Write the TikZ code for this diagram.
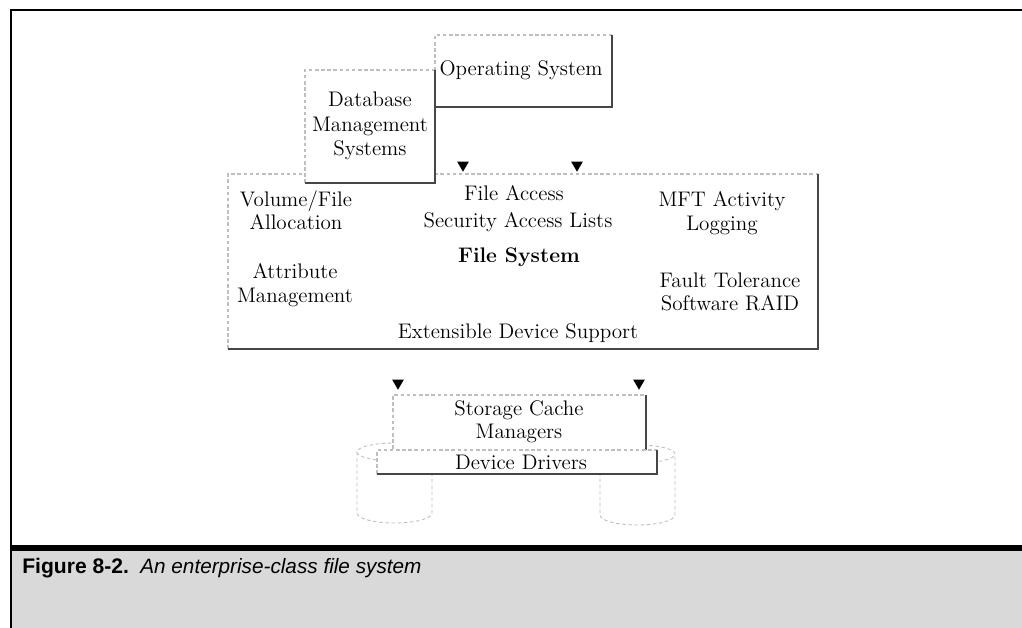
\documentclass[tikz,border=0pt]{standalone}
\usepackage{fontspec}
\newfontfamily\capfont{Liberation Sans}
\usetikzlibrary{shapes.geometric}
\tikzset{
  litedge/.style={draw=gray!50, line width=0.6pt, dash pattern=on 2pt off 1.5pt},
  shadeedge/.style={draw=gray!55!black, line width=1.1pt},
  cyl/.style={draw=gray!50, line width=0.5pt, dash pattern=on 2pt off 1.5pt},
  lbl/.style={font=\fontsize{12}{13.3}\selectfont, align=center, inner sep=1pt},
  marker/.style={regular polygon, regular polygon sides=3, shape border rotate=180,
                 fill=black, inner sep=0pt, minimum size=0.27cm},
  capnum/.style={font=\capfont\bfseries\fontsize{12}{14}\selectfont, anchor=west, inner sep=0pt},
  captext/.style={font=\capfont\itshape\fontsize{11.8}{14}\selectfont, anchor=west, inner sep=0pt},
}

\begin{document}
\begin{tikzpicture}[x=0.02cm, y=-0.02cm]
\useasboundingbox (0,0) rectangle (1022,628);

% Frame and caption band
\fill[gray!30] (11,549) rectangle (1022,628);
\draw[line width=1.6pt] (11,628) -- (11,10) -- (1022,10);
\draw[line width=3.4pt] (11,548) -- (1022,548);
\node[capnum] (fignum) at (22,568) {Figure 8-2.};
\node[captext] (figcap) at (140,568) {An enterprise-class file system};

% File System box
\coordinate (fs-nw) at (228,174);
\coordinate (fs-se) at (818,349);
\fill[white] (fs-nw) rectangle (fs-se);
\draw[litedge] (fs-nw |- fs-se) -- (fs-nw) -- (fs-nw -| fs-se);
\draw[shadeedge] (fs-nw -| fs-se) -- (fs-se) -- (fs-nw |- fs-se);

\node[lbl] (volalloc) at (296,210) {Volume/File\\Allocation};
\node[lbl] (fileacc) at (514,193) {File Access};
\node[lbl] (seclist) at (518,222) {Security Access Lists};
\node[lbl] (mftlog) at (722,213) {MFT Activity\\Logging};
\node[lbl, font=\fontsize{12}{13.3}\selectfont\bfseries] (fsname) at (519,257) {File System};
\node[lbl] (attrmgmt) at (295,285) {Attribute\\Management};
\node[lbl] (faulttol) at (730,292) {Fault Tolerance\\Software RAID};
\node[lbl] (extdev) at (518,333) {Extensible Device Support};

% Operating System box
\coordinate (os-nw) at (435,35);
\coordinate (os-se) at (612,107);
\fill[white] (os-nw) rectangle (os-se);
\draw[litedge] (os-nw |- os-se) -- (os-nw) -- (os-nw -| os-se);
\draw[shadeedge] (os-nw -| os-se) -- (os-se) -- (os-nw |- os-se);
\node[lbl] (os) at (521,70) {Operating System};

% Database Management Systems box
\coordinate (db-nw) at (305,70);
\coordinate (db-se) at (435,183);
\fill[white] (db-nw) rectangle (db-se);
\draw[litedge] (db-nw |- db-se) -- (db-nw) -- (db-nw -| db-se);
\draw[shadeedge] (db-nw -| db-se) -- (db-se) -- (db-nw |- db-se);
\node[lbl, font=\fontsize{12}{13.8}\selectfont] (dbms) at (370,126) {Database\\Management\\Systems};

% Markers into the file system
\node[marker] (tri1) at (463,165) {};
\node[marker] (tri2) at (577,165) {};

% Disks
\draw[cyl] (394.5,452) ellipse [x radius=0.75cm, y radius=0.18cm];
\draw[cyl] (357,452) -- (357,513) arc[start angle=180, end angle=360, x radius=0.75cm, y radius=0.2cm] -- (432,452);
\draw[cyl] (637.5,454) ellipse [x radius=0.75cm, y radius=0.18cm];
\draw[cyl] (600,454) -- (600,515) arc[start angle=180, end angle=360, x radius=0.75cm, y radius=0.2cm] -- (675,454);

% Storage Cache Managers box
\coordinate (sc-nw) at (393,395);
\coordinate (sc-se) at (646,455);
\fill[white] (sc-nw) rectangle (sc-se);
\draw[litedge] (sc-nw |- sc-se) -- (sc-nw) -- (sc-nw -| sc-se);
\draw[shadeedge] (sc-nw -| sc-se) -- (sc-se);
\node[lbl] (cache) at (519,422) {Storage Cache\\Managers};

% Device Drivers box
\coordinate (dd-nw) at (377,450);
\coordinate (dd-se) at (657,474);
\fill[white] (dd-nw) rectangle (dd-se);
\draw[litedge] (dd-nw |- dd-se) -- (dd-nw) -- (dd-nw -| dd-se);
\draw[shadeedge] (dd-nw -| dd-se) -- (dd-se) -- (dd-nw |- dd-se);
\node[lbl] (drivers) at (521,462) {Device Drivers};

% Markers into the storage layer
\node[marker] (tri3) at (398,383) {};
\node[marker] (tri4) at (639,383) {};

\end{tikzpicture}
\end{document}
